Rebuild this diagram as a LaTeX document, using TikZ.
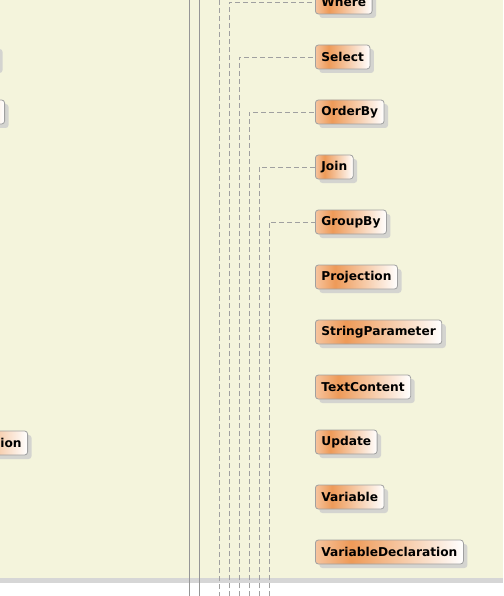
\documentclass[tikz,border=0pt]{standalone}
\usepackage{fontspec}
\setmainfont{DejaVu Sans}
\usetikzlibrary{shadows}
\definecolor{bgbeige}{RGB}{244,244,220}
\definecolor{bandgray}{RGB}{214,214,214}
\definecolor{boxborder}{RGB}{160,160,160}
\definecolor{shadowgray}{RGB}{212,212,208}
\definecolor{solidline}{RGB}{150,150,150}
\definecolor{dashline}{RGB}{160,160,160}
\definecolor{orA}{RGB}{246,196,158}
\definecolor{orB}{RGB}{238,154,88}
\definecolor{orC}{RGB}{255,255,255}
\pgfdeclarehorizontalshading{boxshade}{100bp}{color(0bp)=(orA); color(25bp)=(orA); color(37bp)=(orB); color(75bp)=(orC); color(100bp)=(orC)}
\tikzset{
  classbox/.style={draw=boxborder, line width=0.8pt, rounded corners=3pt,
    shading=boxshade, minimum height=24pt, inner xsep=6pt, inner ysep=0pt,
    font=\fontsize{12.2}{14}\selectfont\bfseries, text=black, anchor=west,
    general shadow={shadow xshift=4pt, shadow yshift=-4pt, fill=shadowgray}},
  solidconn/.style={draw=solidline, line width=0.8pt},
  dashconn/.style={draw=dashline, line width=0.8pt, dash pattern=on 5pt off 3pt},
}
\begin{document}
\begin{tikzpicture}[x=1pt,y=-1pt]
\useasboundingbox (0,0) rectangle (503,596);
\fill[bgbeige] (0,0) rectangle (503,578);
\fill[bandgray] (0,578) rectangle (503,583);
\fill[white] (0,583) rectangle (503,596);
\clip (0,0) rectangle (503,596);
% partial nodes on the left
\node[classbox, anchor=east, minimum width=80pt] (left1) at (-1,57) {};
\node[classbox, anchor=east, minimum width=80pt] (left2) at (5,112) {};
\node[classbox, anchor=east, text width=68pt, align=right] (left3) at (28,443) {ion};
% nodes on the right
\node[classbox] (where) at (315,2) {Where};
\node[classbox] (select) at (315,57) {Select};
\node[classbox] (orderby) at (315,112) {OrderBy};
\node[classbox] (join) at (315,167) {Join};
\node[classbox] (groupby) at (315,222) {GroupBy};
\node[classbox] (projection) at (315,277) {Projection};
\node[classbox] (stringparam) at (315,332) {StringParameter};
\node[classbox] (textcontent) at (315,387) {TextContent};
\node[classbox] (update) at (315,442) {Update};
\node[classbox] (variable) at (315,497) {Variable};
\node[classbox] (vardecl) at (315,552) {VariableDeclaration};
% free ends of connectors
\coordinate (sA1) at (189,0);   \coordinate (sA2) at (189,596);
\coordinate (sB1) at (199,0);   \coordinate (sB2) at (199,596);
\coordinate (dT1) at (219,0);   \coordinate (dT2) at (219,596);
\coordinate (dW) at (229,596);
\coordinate (dS) at (239,596);
\coordinate (dO) at (249,596);
\coordinate (dJ) at (259,596);
\coordinate (dG) at (269,596);
% connectors
\draw[solidconn] (sA1) -- (sA2);
\draw[solidconn] (sB1) -- (sB2);
\draw[dashconn] (dT1) -- (dT2);
\draw[dashconn] (dW) |- (where.west);
\draw[dashconn] (dS) |- (select.west);
\draw[dashconn] (dO) |- (orderby.west);
\draw[dashconn] (dJ) |- (join.west);
\draw[dashconn] (dG) |- (groupby.west);
\end{tikzpicture}
\end{document}
